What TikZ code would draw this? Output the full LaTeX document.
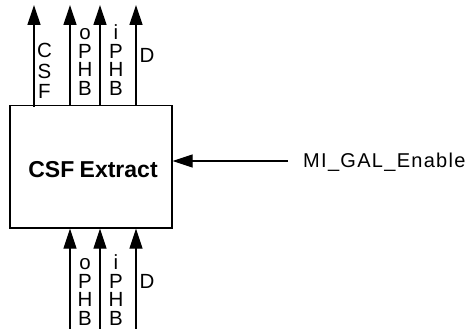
\documentclass[tikz,border=0pt]{standalone}
\usepackage{fontspec}
\setmainfont{Liberation Sans}
\usetikzlibrary{arrows.meta}
\tikzset{
  arr/.style={line width=1.3pt, -{Triangle[length=20pt,width=13pt]}},
  boxstyle/.style={draw, line width=1.3pt, minimum width=162pt, minimum height=122.5pt, inner sep=0pt},
  vlab/.style={align=center, inner sep=0pt, anchor=base, font=\fontsize{20.5}{18.5}\selectfont},
  vlabw/.style={vlab, font=\fontsize{20.5}{20.75}\selectfont},
  lab/.style={inner sep=0pt, font=\fontsize{20}{24}\selectfont\addfontfeature{LetterSpace=6.5}},
}
\begin{document}
\begin{tikzpicture}[x=1pt,y=-1pt]
\useasboundingbox (0,0) rectangle (469,329);
\node[boxstyle] (box) at (91,166.75) {};
\node[inner sep=0pt, anchor=base, font=\fontsize{23}{24}\selectfont\bfseries] (title) at (93,177) {CSF\kern-1pt\ Extract};
% top outputs
\coordinate (t1) at (34,5);
\coordinate (t2) at (70,5);
\coordinate (t3) at (100,5);
\coordinate (t4) at (136,5);
\draw[arr] ([yshift=-2pt]box.north -| t1) -- (t1);
\draw[arr] (box.north -| t2) -- (t2);
\draw[arr] (box.north -| t3) -- (t3);
\draw[arr] (box.north -| t4) -- (t4);
\node[vlabw] (lcsf) at (44.5,99) {C\\S\\F};
\node[vlab] (lophb) at (85,95.5) {o\\P\\H\\B};
\node[vlab] (liphb) at (116,95.5) {i\\P\\H\\B};
\node[vlab] (ld) at (147,63) {D};
% bottom inputs
\coordinate (b2) at (70,329);
\coordinate (b3) at (100,329);
\coordinate (b4) at (136,329);
\draw[arr] (b2) -- (box.south -| b2);
\draw[arr] (b3) -- (box.south -| b3);
\draw[arr] (b4) -- (box.south -| b4);
\node[vlab] (bophb) at (85,325) {o\\P\\H\\B};
\node[vlab] (biphb) at (116,325) {i\\P\\H\\B};
\node[vlab] (bd) at (147,288) {D};
% side input
\node[lab, anchor=base west] (mi) at (303,167.7) {MI\_GAL\_Enable};
\coordinate (m0) at (288,161);
\draw[arr] (m0) -- (box.east |- m0);
\end{tikzpicture}
\end{document}
